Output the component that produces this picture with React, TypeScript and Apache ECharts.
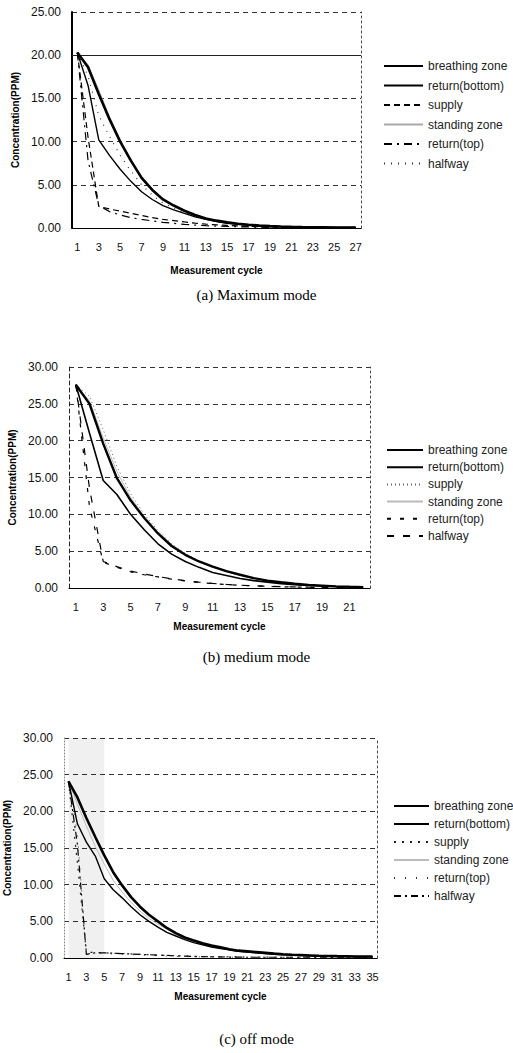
import React, { useEffect, useRef } from "react";
import * as echarts from "echarts";

const seriesNames = ["breathing zone", "return(bottom)", "supply", "standing zone", "return(top)", "halfway"];

// (a) Maximum mode
const catsA = ["1","2","3","4","5","6","7","8","9","10","11","12","13","14","15","16","17","18","19","20","21","22","23","24","25","26","27"];
const aBreathing = [20.3, 18.6, 15.5, 12.6, 10.0, 7.8, 5.8, 4.4, 3.3, 2.6, 2.0, 1.5, 1.1, 0.85, 0.65, 0.5, 0.38, 0.28, 0.22, 0.17, 0.13, 0.1, 0.08, 0.07, 0.06, 0.05, 0.05];
const aReturnBottom = [20.3, 16.5, 10.2, 8.4, 6.8, 5.4, 4.2, 3.3, 2.6, 2.1, 1.7, 1.3, 1.0, 0.75, 0.55, 0.42, 0.32, 0.24, 0.18, 0.14, 0.11, 0.09, 0.07, 0.06, 0.05, 0.05, 0.05];
const aSupply = [20.3, 10.5, 2.5, 2.2, 1.95, 1.7, 1.45, 1.2, 1.0, 0.85, 0.7, 0.56, 0.45, 0.36, 0.3, 0.24, 0.19, 0.15, 0.12, 0.1, 0.08, 0.07, 0.06, 0.05, 0.05, 0.05, 0.05];
const aStanding = [20.3, 18.9, 16.0, 12.9, 10.2, 7.9, 6.0, 4.5, 3.4, 2.6, 2.0, 1.5, 1.1, 0.85, 0.65, 0.5, 0.38, 0.28, 0.22, 0.17, 0.13, 0.1, 0.08, 0.07, 0.06, 0.05, 0.05];
const aReturnTop = [20.3, 7.8, 2.6, 1.9, 1.5, 1.2, 1.0, 0.82, 0.66, 0.53, 0.42, 0.34, 0.27, 0.22, 0.18, 0.15, 0.12, 0.1, 0.08, 0.07, 0.06, 0.05, 0.05, 0.05, 0.05, 0.05, 0.05];
const aHalfway = [20.3, 17.6, 13.0, 10.6, 8.4, 6.6, 5.0, 3.8, 2.9, 2.3, 1.8, 1.4, 1.05, 0.8, 0.6, 0.46, 0.35, 0.26, 0.2, 0.15, 0.12, 0.1, 0.08, 0.07, 0.06, 0.05, 0.05];

// (b) medium mode
const catsB = ["1","2","3","4","5","6","7","8","9","10","11","12","13","14","15","16","17","18","19","20","21","22"];
const bBreathing = [27.6, 25.0, 19.6, 14.9, 11.9, 9.5, 7.4, 5.7, 4.5, 3.6, 2.9, 2.3, 1.8, 1.35, 1.0, 0.78, 0.58, 0.42, 0.32, 0.22, 0.16, 0.12];
const bReturnBottom = [27.6, 21.0, 14.6, 12.7, 10.0, 7.9, 6.0, 4.6, 3.6, 2.8, 2.1, 1.7, 1.3, 1.0, 0.8, 0.6, 0.45, 0.35, 0.26, 0.2, 0.15, 0.1];
const bSupply = [27.6, 26.0, 21.5, 16.5, 12.8, 10.0, 7.8, 6.0, 4.7, 3.7, 2.9, 2.2, 1.7, 1.3, 1.0, 0.75, 0.56, 0.42, 0.3, 0.22, 0.16, 0.12];
const bStanding = [27.6, 25.4, 20.4, 15.8, 12.3, 9.7, 7.6, 5.9, 4.6, 3.6, 2.8, 2.2, 1.7, 1.3, 1.0, 0.76, 0.57, 0.42, 0.31, 0.22, 0.16, 0.12];
const bReturnTop = [27.6, 11.0, 3.5, 2.8, 2.2, 1.8, 1.5, 1.2, 0.95, 0.75, 0.6, 0.47, 0.37, 0.29, 0.22, 0.17, 0.13, 0.1, 0.08, 0.07, 0.06, 0.05];
const bHalfway = [27.6, 13.5, 3.6, 2.9, 2.3, 1.9, 1.55, 1.25, 1.0, 0.8, 0.62, 0.48, 0.38, 0.3, 0.23, 0.18, 0.14, 0.11, 0.09, 0.07, 0.06, 0.05];

// (c) off mode
const catsC = ["1","2","3","4","5","6","7","8","9","10","11","12","13","14","15","16","17","18","19","20","21","22","23","24","25","26","27","28","29","30","31","32","33","34","35"];
const cBreathing = [24.1, 21.9, 19.1, 16.5, 14.0, 11.7, 9.9, 8.3, 7.0, 5.9, 5.0, 4.1, 3.4, 2.8, 2.4, 2.0, 1.7, 1.45, 1.2, 1.0, 0.9, 0.8, 0.7, 0.6, 0.52, 0.45, 0.4, 0.35, 0.3, 0.28, 0.25, 0.23, 0.2, 0.2, 0.2];
const cReturnBottom = [24.1, 18.3, 15.8, 13.9, 10.8, 9.3, 8.2, 7.0, 5.9, 5.0, 4.2, 3.5, 3.0, 2.5, 2.1, 1.8, 1.5, 1.3, 1.1, 0.92, 0.8, 0.7, 0.6, 0.5, 0.45, 0.4, 0.35, 0.3, 0.28, 0.25, 0.22, 0.2, 0.2, 0.18, 0.18];
const cSupply = [24.1, 13.0, 0.8, 0.75, 0.7, 0.65, 0.6, 0.55, 0.5, 0.45, 0.4, 0.35, 0.3, 0.26, 0.23, 0.2, 0.18, 0.16, 0.15, 0.14, 0.13, 0.12, 0.11, 0.1, 0.1, 0.1, 0.1, 0.1, 0.1, 0.1, 0.1, 0.1, 0.1, 0.1, 0.1];
const cStanding = [24.1, 21.0, 18.0, 15.2, 12.8, 10.6, 9.0, 7.6, 6.4, 5.4, 4.6, 3.9, 3.2, 2.7, 2.3, 1.9, 1.6, 1.38, 1.15, 0.96, 0.85, 0.75, 0.65, 0.55, 0.48, 0.42, 0.37, 0.32, 0.29, 0.26, 0.23, 0.21, 0.2, 0.19, 0.19];
const cReturnTop = [24.1, 17.0, 0.6, 0.65, 0.6, 0.55, 0.5, 0.45, 0.4, 0.35, 0.3, 0.26, 0.22, 0.19, 0.17, 0.15, 0.13, 0.12, 0.11, 0.1, 0.1, 0.1, 0.1, 0.1, 0.1, 0.1, 0.1, 0.1, 0.1, 0.1, 0.1, 0.1, 0.1, 0.1, 0.1];
const cHalfway = [24.1, 15.5, 0.5, 0.7, 0.7, 0.65, 0.6, 0.55, 0.5, 0.45, 0.4, 0.35, 0.3, 0.25, 0.2, 0.2, 0.15, 0.15, 0.12, 0.12, 0.1, 0.1, 0.1, 0.1, 0.1, 0.1, 0.1, 0.1, 0.1, 0.1, 0.1, 0.1, 0.1, 0.1, 0.1];

type Cfg = {
  height: number;
  cats: string[];
  data: number[][];
  styles: any[];
  yMax: number;
  grid: { left: number; top: number; width: number; height: number };
  legend: { left: number; top: number; itemWidth: number; itemGap: number };
  yNameGap: number;
  xNameGap: number;
  caption: string;
  captionTop: number;
  yAxisLine: any;
  solidLevels: number[];
  shade?: [string, string];
};

function makeOption(c: Cfg) {
  const series: any[] = seriesNames.map((name, i) => ({
    type: "line",
    name,
    data: c.data[i],
    symbol: "none",
    itemStyle: { color: "rgba(0,0,0,0)" },
    lineStyle: c.styles[i],
    z: 10 - i,
  }));
  series[0].markLine = {
    silent: true,
    symbol: "none",
    label: { show: false },
    lineStyle: { color: "#222", type: "solid", width: 1 },
    data: c.solidLevels.map((v) => ({ yAxis: v })),
  };
  if (c.shade) {
    series[0].markArea = {
      silent: true,
      itemStyle: { color: "rgba(0,0,0,0.06)" },
      data: [[{ xAxis: c.shade[0] }, { xAxis: c.shade[1] }]],
    };
  }
  return {
    animation: false,
    textStyle: { fontFamily: "Liberation Sans", color: "#000" },
    grid: { ...c.grid, containLabel: false, outerBoundsMode: "none" },
    legend: {
      orient: "vertical",
      left: c.legend.left,
      top: c.legend.top,
      itemWidth: c.legend.itemWidth,
      itemHeight: 14,
      itemGap: c.legend.itemGap,
      padding: 0,
      selectedMode: false,
      data: seriesNames,
      itemStyle: { opacity: 0 },
      textStyle: { fontSize: 12, color: "#222", fontFamily: "Liberation Sans" },
    },
    xAxis: {
      type: "category",
      data: c.cats,
      boundaryGap: true,
      name: "Measurement cycle",
      nameLocation: "middle",
      nameGap: c.xNameGap,
      nameTextStyle: { fontWeight: "bold", fontSize: 10, color: "#000" },
      axisTick: { show: false },
      axisLine: { lineStyle: { color: "#000", width: 1 } },
      axisLabel: { interval: 1, fontSize: 11, margin: 13, color: "#111" },
      splitLine: { show: false },
    },
    yAxis: [
      {
        type: "value",
        min: 0,
        max: c.yMax,
        interval: 5,
        name: "Concentration(PPM)",
        nameLocation: "middle",
        nameGap: c.yNameGap,
        nameRotate: 90,
        nameTextStyle: { fontWeight: "bold", fontSize: 10, color: "#000" },
        axisLine: { show: true, lineStyle: c.yAxisLine },
        axisTick: { show: false },
        axisLabel: { fontSize: 12, margin: 11, color: "#111", formatter: (v: number) => v.toFixed(2) },
        splitLine: { show: true, lineStyle: { color: "#333", type: [5, 4], width: 1 } },
      },
      {
        type: "value",
        min: 0,
        max: c.yMax,
        interval: 5,
        position: "right",
        axisLine: { show: true, lineStyle: { color: "#444", type: [2, 3], width: 1 } },
        axisTick: { show: false },
        axisLabel: { show: false },
        splitLine: { show: false },
      },
    ],
    series,
    graphic: [
      {
        type: "text",
        left: "center",
        top: c.captionTop,
        style: { text: c.caption, font: '15px "Liberation Serif"', fill: "#000" },
      },
    ],
  };
}

const cfgA: Cfg = {
  height: 330,
  cats: catsA,
  data: [aBreathing, aReturnBottom, aSupply, aStanding, aReturnTop, aHalfway],
  styles: [
    { color: "#000", width: 2.6, type: "solid" },
    { color: "#000", width: 1.4, type: "solid" },
    { color: "#000", width: 1.2, type: [6, 4] },
    { color: "#aaa", width: 1, type: "solid" },
    { color: "#000", width: 1.2, type: [8, 5, 2, 5] },
    { color: "#333", width: 1.2, type: [1, 6] },
  ],
  yMax: 25,
  grid: { left: 72, top: 12, width: 289, height: 216 },
  legend: { left: 383, top: 60, itemWidth: 39, itemGap: 7.5 },
  yNameGap: 52,
  xNameGap: 37,
  caption: "(a) Maximum mode",
  captionTop: 287,
  yAxisLine: { color: "#000", width: 2 },
  solidLevels: [20],
};

const cfgB: Cfg = {
  height: 360,
  cats: catsB,
  data: [bBreathing, bReturnBottom, bSupply, bStanding, bReturnTop, bHalfway],
  styles: [
    { color: "#000", width: 2.4, type: "solid" },
    { color: "#000", width: 1.6, type: "solid" },
    { color: "#666", width: 1, type: [1, 3] },
    { color: "#bbb", width: 1, type: "solid" },
    { color: "#000", width: 1.2, type: [4, 9] },
    { color: "#000", width: 1.2, type: [7, 9] },
  ],
  yMax: 30,
  grid: { left: 69, top: 37, width: 301, height: 221 },
  legend: { left: 386, top: 114, itemWidth: 36, itemGap: 5.2 },
  yNameGap: 48,
  xNameGap: 33,
  caption: "(b) medium mode",
  captionTop: 319,
  yAxisLine: { color: "#222", width: 1, type: [4, 3] },
  solidLevels: [],
};

const cfgC: Cfg = {
  height: 363,
  cats: catsC,
  data: [cBreathing, cReturnBottom, cSupply, cStanding, cReturnTop, cHalfway],
  styles: [
    { color: "#000", width: 2.6, type: "solid" },
    { color: "#000", width: 1.4, type: "solid" },
    { color: "#222", width: 1.2, type: [2, 6] },
    { color: "#bbb", width: 1, type: "solid" },
    { color: "#333", width: 1, type: [1, 10] },
    { color: "#000", width: 1.2, type: [7, 4, 2, 4] },
  ],
  yMax: 30,
  grid: { left: 64, top: 48, width: 313, height: 220 },
  legend: { left: 393, top: 110, itemWidth: 35, itemGap: 6 },
  yNameGap: 43,
  xNameGap: 33,
  caption: "(c) off mode",
  captionTop: 341,
  yAxisLine: { color: "#888", width: 1, type: [1, 2] },
  solidLevels: [],
  shade: ["1", "5"],
};

function Chart({ cfg }: { cfg: Cfg }) {
  const ref = useRef<HTMLDivElement>(null);
  useEffect(() => {
    if (!ref.current) return;
    const chart = echarts.init(ref.current, undefined, { renderer: "svg" });
    chart.setOption(makeOption(cfg) as any);
    return () => chart.dispose();
  }, [cfg]);
  return <div ref={ref} style={{ width: 513, height: cfg.height }} />;
}

export default function App() {
  return (
    <div style={{ position: "absolute", left: 0, top: 0, width: 513, height: 1053, background: "#fff" }}>
      <Chart cfg={cfgA} />
      <Chart cfg={cfgB} />
      <Chart cfg={cfgC} />
    </div>
  );
}
